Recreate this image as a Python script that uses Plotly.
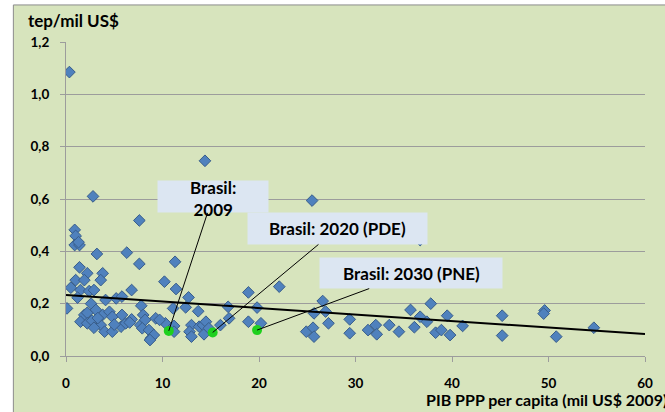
import plotly.graph_objects as go

# Countries: GDP PPP per capita (thousand US$ 2009) and energy intensity (tep / thousand US$)
gdp = [0.35, 14.4, 25.5, 2.8, 7.6, 36.7,
       0.9, 1.0, 0.9, 1.4, 1.3, 3.2, 6.3, 7.6, 11.3, 1.4, 2.2, 3.8, 1.0, 1.9, 3.6, 10.2,
       0.5, 1.5, 2.4, 2.9, 6.8, 11.4, 1.2, 4.1, 5.2, 5.8, 12.7, 0.1, 2.6, 3.1, 7.8, 11.1, 12.4, 13.7,
       1.9, 2.2, 3.8, 4.5, 4.8, 5.8, 8.0, 1.5, 2.2, 3.6, 4.0, 4.8, 5.7, 6.2, 7.7, 8.2, 9.3, 7.9,
       8.6, 8.8, 9.1, 8.7, 2.7, 3.3, 6.8, 5.0, 2.9, 6.6,
       10.3, 11.2, 11.2, 13.0, 12.8, 13.0, 13.8, 14.2, 14.5, 14.3, 14.8, 16.0, 16.9, 16.8, 9.7,
       18.9, 19.8, 18.9, 20.2, 22.1,
       26.6, 25.7, 26.9, 27.2, 24.9, 25.6, 25.7, 29.4, 29.4, 31.3, 32.1, 32.2, 33.5,
       34.5, 35.7, 37.8, 36.7, 37.4, 36.1, 38.3, 38.9, 39.5, 39.8, 41.1,
       45.2, 45.2, 49.6, 49.5, 50.8, 54.7]
intensity = [1.085, 0.746, 0.594, 0.61, 0.518, 0.443,
             0.482, 0.459, 0.424, 0.424, 0.435, 0.39, 0.395, 0.352, 0.36, 0.339, 0.316, 0.316, 0.29, 0.29, 0.29, 0.284,
             0.261, 0.252, 0.248, 0.252, 0.252, 0.256, 0.223, 0.214, 0.22, 0.227, 0.224, 0.182, 0.2, 0.176, 0.192, 0.182, 0.186, 0.171,
             0.157, 0.165, 0.157, 0.169, 0.15, 0.157, 0.157, 0.131, 0.125, 0.118, 0.093, 0.093, 0.112, 0.125, 0.118, 0.138, 0.144, 0.106,
             0.099, 0.068, 0.08, 0.061, 0.135, 0.145, 0.14, 0.12, 0.108, 0.128,
             0.125, 0.115, 0.093, 0.118, 0.093, 0.074, 0.112, 0.118, 0.131, 0.083, 0.106, 0.118, 0.144, 0.188, 0.138,
             0.243, 0.185, 0.131, 0.125, 0.265,
             0.21, 0.163, 0.17, 0.125, 0.093, 0.108, 0.074, 0.14, 0.087, 0.099, 0.118, 0.083, 0.118,
             0.093, 0.176, 0.2, 0.15, 0.131, 0.11, 0.089, 0.099, 0.154, 0.08, 0.115,
             0.154, 0.078, 0.174, 0.162, 0.074, 0.108]

# Brazil points
brasil_labels = ["Brasil:<br>2009", "Brasil: 2020 (PDE)", "Brasil: 2030 (PNE)"]
brasil_gdp = [10.65, 15.2, 19.8]
brasil_int = [0.096, 0.090, 0.099]

# Linear trendline
trend_x = [0, 60]
trend_y = [0.233, 0.084]

x_ticks = [0, 10, 20, 30, 40, 50, 60]
y_ticks = [0.0, 0.2, 0.4, 0.6, 0.8, 1.0, 1.2]

FONT = "Lato"
GREEN_BG = "#D7E4BD"
GRAY = "#9C9C9C"

fig = go.Figure()
fig.add_trace(go.Scatter(
    x=gdp, y=intensity, mode="markers",
    marker=dict(symbol="diamond", size=9, color="#4F81BD",
                line=dict(color="#385D8A", width=1)),
    showlegend=False, hoverinfo="x+y"))
fig.add_trace(go.Scatter(
    x=trend_x, y=trend_y, mode="lines",
    line=dict(color="black", width=2), showlegend=False))
fig.add_trace(go.Scatter(
    x=brasil_gdp, y=brasil_int, mode="markers",
    marker=dict(symbol="circle", size=10, color="#1ED01E"),
    showlegend=False))

# label boxes: (ax, ay, width, height, text dy) in pixels
box_style = [(44, -134, 106, 27, 2), (125, -104, 175, 27, 0), (154, -57, 178, 26, 0)]
for lab, bx, by, (ax, ay, w, h, dy) in zip(brasil_labels, brasil_gdp, brasil_int, box_style):
    # box + connector line
    fig.add_annotation(
        x=bx, y=by, xref="x", yref="y", text=" ",
        showarrow=True, arrowhead=0, arrowwidth=1, arrowcolor="black",
        ax=ax, ay=ay, width=w, height=h, bgcolor="#DCE6F2", borderpad=2,
        font=dict(family=FONT, size=16, color="black"))
    # label text (allowed to overflow the box like the original)
    fig.add_annotation(
        x=bx, y=by, xref="x", yref="y", text=lab, showarrow=False,
        xshift=ax, yshift=-ay - dy, xanchor="center", yanchor="middle",
        font=dict(family=FONT, size=17, color="black", weight="bold"))

# axis titles
fig.add_annotation(text="tep/mil US$", xref="paper", yref="paper",
                   x=-0.069, y=1.07, xanchor="left", yanchor="middle", showarrow=False,
                   font=dict(family=FONT, size=17, color="black", weight="bold"))
fig.add_annotation(text="PIB PPP per capita (mil US$ 2009)", xref="paper", yref="paper",
                   x=0.619, y=-0.137, xanchor="left", yanchor="middle", showarrow=False,
                   font=dict(family=FONT, size=16, color="black", weight="bold"))

# chart frame
fig.add_shape(type="rect", xref="paper", yref="paper", x0=-0.0909, x1=1.3, y0=-0.5, y1=1.118,
              line=dict(color="#8C8C8C", width=1), fillcolor=GREEN_BG, layer="below")

fig.update_xaxes(range=[0, 60], tickvals=x_ticks, ticks="outside", ticklen=5, tickcolor=GRAY,
                 showline=True, linecolor=GRAY, linewidth=1, showgrid=False, zeroline=False,
                 ticklabelstandoff=10,
                 tickfont=dict(family=FONT, size=13.5, color="black", weight="bold"))
fig.update_yaxes(range=[0, 1.2], tickvals=y_ticks, tickformat=".1f", ticks="outside", ticklen=5,
                 tickcolor=GRAY, showline=True, linecolor=GRAY, linewidth=1,
                 showgrid=True, gridcolor=GRAY, gridwidth=1, zeroline=False,
                 ticklabelstandoff=8,
                 tickfont=dict(family=FONT, size=13.5, color="black", weight="bold"))

fig.update_layout(width=665, height=412, margin=dict(l=66, r=16, t=42, b=56),
                  paper_bgcolor="white", plot_bgcolor="white", separators=",.",
                  font=dict(family=FONT))

fig.write_html("out.html", config={"displayModeBar": False},
               post_script="document.body.style.margin='0';document.body.style.overflow='hidden';")
